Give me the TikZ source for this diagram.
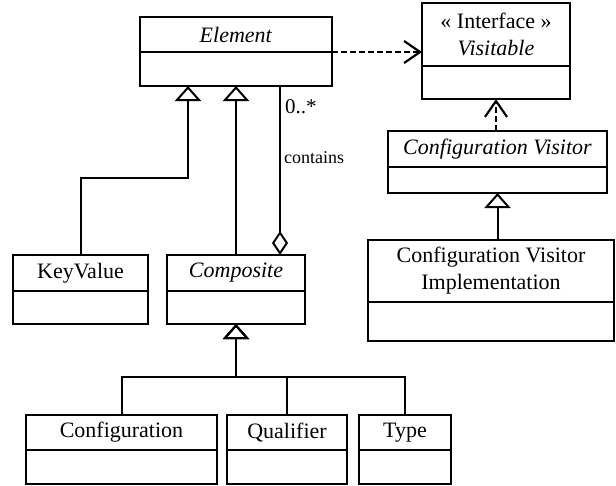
\documentclass[tikz,border=0pt]{standalone}
\usepackage{fontspec}
\setmainfont{Liberation Serif}
\usetikzlibrary{arrows.meta}

\tikzset{
  classbox/.style={draw, line width=2pt, inner sep=0pt, outer sep=0pt,
    anchor=north west, align=center, font=\fontsize{22}{27}\selectfont},
  gen/.style={line width=2pt, -{Triangle[open, length=15pt, width=26pt]}},
  agg/.style={line width=2pt, -{Diamond[open, length=24pt, width=16pt]}},
  dep/.style={line width=2.2pt, dash pattern=on 6pt off 3pt,
    -{Straight Barb[length=16pt, width=22pt]}},
  rolelabel/.style={anchor=west, inner sep=0pt}
}

% UML class: name, left, top, right, divider, bottom, title
\newcommand{\umlclass}[7]{%
  \pgfmathsetmacro\clsw{#4-#2}%
  \pgfmathsetmacro\clsth{#5-#3}%
  \pgfmathsetmacro\clsbh{#6-#5}%
  \node[classbox, minimum width=\clsw pt, minimum height=\clsth pt] (#1) at (#2,#3) {#7};
  \node[classbox, minimum width=\clsw pt, minimum height=\clsbh pt] (#1-b) at (#2,#5) {};
}

\begin{document}
\begin{tikzpicture}[x=1pt, y=-1pt]
  \useasboundingbox (0,0) rectangle (616,485);

  % classes
  \umlclass{el}{140}{17}{332}{52}{86}{\textit{Element}}
  \umlclass{vis}{422}{3}{570}{66}{99}{« Interface »\\\textit{Visitable}}
  \umlclass{cv}{388}{131}{607}{167}{193}{\textit{Configuration Visitor}}
  \umlclass{cvi}{368}{240}{614}{302}{341}{Configuration Visitor\\Implementation}
  \umlclass{kv}{13}{255}{148}{291}{324}{KeyValue}
  \umlclass{comp}{167}{255}{305}{291}{324}{\textit{Composite}}
  \umlclass{cfg}{26}{415}{217}{450}{483.5}{Configuration}
  \umlclass{qual}{227}{415}{347}{450}{483.5}{Qualifier}
  \umlclass{type}{359}{415}{451}{450}{483.5}{Type}

  % Element and Visitable
  \draw[dep] (el.south east) -- (el.south east -| vis.west);

  % Element hierarchy
  \coordinate (kvbend) at (188,178);
  \draw[gen] (kv.north) |- (kvbend) -- (kvbend |- el-b.south);
  \draw[gen] (comp.north) -- (comp.north |- el-b.south);

  % containment
  \coordinate (aggx) at (280,0);
  \draw[agg] (aggx |- el-b.south) -- (aggx |- comp.north);
  \node[rolelabel, font=\fontsize{21}{24}\selectfont] (mult) at (285,107) {0..*};
  \node[rolelabel, font=\fontsize{18}{21}\selectfont] (role) at (284,158) {contains};

  % Composite subclasses
  \coordinate (bar) at (236,377);
  \draw[gen] (cfg.north) |- (bar) -- (comp-b.south);
  \draw[gen] (qual.north) |- (bar) -- (comp-b.south);
  \draw[gen] (type.north) |- (bar) -- (comp-b.south);

  % visitor side
  \draw[dep] (cv.north -| vis-b.south) -- (vis-b.south);
  \draw[gen] (cv-b.south |- cvi.north) -- (cv-b.south);
\end{tikzpicture}
\end{document}
